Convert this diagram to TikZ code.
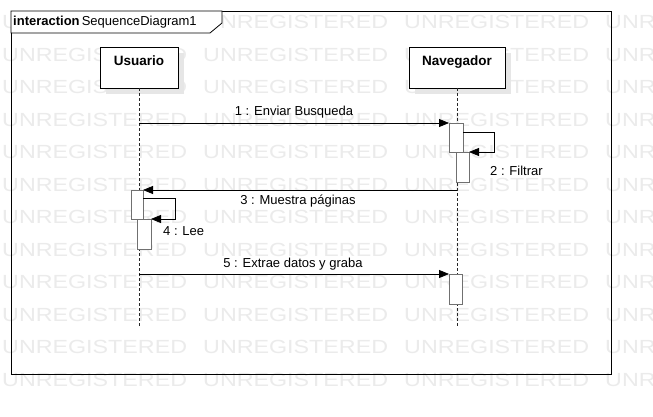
\documentclass[tikz,border=0pt]{standalone}
\usepackage{fontspec}
\setmainfont{Liberation Sans}
\usetikzlibrary{arrows.meta,shadows}
\definecolor{wm}{HTML}{EBEBEB}
\definecolor{actline}{HTML}{707070}
\definecolor{shadowc}{HTML}{E6E6E6}
\begin{document}
\begin{tikzpicture}[x=1pt,y=-1pt,
  wmtext/.style={anchor=base west, inner sep=0, text=wm, font=\fontsize{19}{19}\selectfont},
  headbox/.style={draw=black, fill=white, line width=0.8pt, minimum height=41pt, inner sep=0, outer sep=0, anchor=north,
    general shadow={fill=shadowc, shadow xshift=6pt, shadow yshift=-6pt}},
  headtxt/.style={inner sep=0, font=\fontsize{13.5}{15}\selectfont\bfseries},
  act/.style={draw=actline, fill=white, line width=0.9pt, inner sep=0, outer sep=0, anchor=north west},
  lifeline/.style={draw=black!85, line width=0.8pt, dash pattern=on 3pt off 2pt},
  msg/.style={draw=black, line width=0.8pt, -{Triangle[length=10pt,width=8pt]}},
  lbl/.style={inner sep=0, font=\fontsize{13}{15}\selectfont}
]
\useasboundingbox[fill=white] (0,0) rectangle (653,417);
% watermark
\foreach \r in {0,...,11}{
  \foreach \c in {0,...,3}{
    \node[wmtext] (wm-\r-\c) at ({2+201*\c},{15+32.5*\r+13.6}) {\scalebox{1.225}[1]{UNREGISTERED}};
  }
}
% frame
\draw[line width=0.9pt] (11,11) rectangle (611,374);
\draw[fill=white, line width=0.8pt] (11,11) -- (222,11) -- (222,23) -- (210,33) -- (11,33) -- cycle;
\node[anchor=west, inner sep=0, font=\fontsize{13}{15}\selectfont] (title) at (13,22) {\textbf{interaction}\,SequenceDiagram1};
% lifeline heads
\node[headbox, minimum width=78pt] (ubox) at (139,47) {};
\node[headtxt] (utxt) at (139,61) {Usuario};
\node[headbox, minimum width=96pt] (nbox) at (457,47) {};
\node[headtxt] (ntxt) at (457,62) {Navegador};
\coordinate (uend) at (139,326);
\coordinate (nend) at (457,326);
\draw[lifeline] (ubox.south) -- (uend);
\draw[lifeline] (nbox.south) -- (nend);
% activations
\node[act, minimum width=14pt, minimum height=29pt] (act1) at (449,123) {};
\node[act, minimum width=13pt, minimum height=30pt] (act2) at (456,152) {};
\node[act, minimum width=12pt, minimum height=29pt] (act3) at (131,190) {};
\node[act, minimum width=14pt, minimum height=30pt] (act4) at (137,219) {};
\node[act, minimum width=13pt, minimum height=30pt] (act5) at (449,274) {};
% messages
\draw[msg] (ubox.south |- act1.north west) -- (act1.north west);
\draw[msg] ([yshift=-9pt]act1.north east) -- ++(31,0) |- (act2.north east);
\draw[msg] (nbox.south |- act3.north east) -- (act3.north east);
\draw[msg] ([yshift=-8pt]act3.north east) -- ++(32,0) |- (act4.north east);
\draw[msg] (ubox.south |- act5.north west) -- (act5.north west);
% labels
\node[lbl] (l1) at (294,112) {1 : Enviar Busqueda};
\node[lbl, anchor=west] (l2) at (490,171) {2 : Filtrar};
\node[lbl] (l3) at (298,201) {3 : Muestra páginas};
\node[lbl, anchor=west] (l4) at (163,231) {4 : Lee};
\node[lbl] (l5) at (293,264) {5 : Extrae datos y graba};
\end{tikzpicture}
\end{document}
